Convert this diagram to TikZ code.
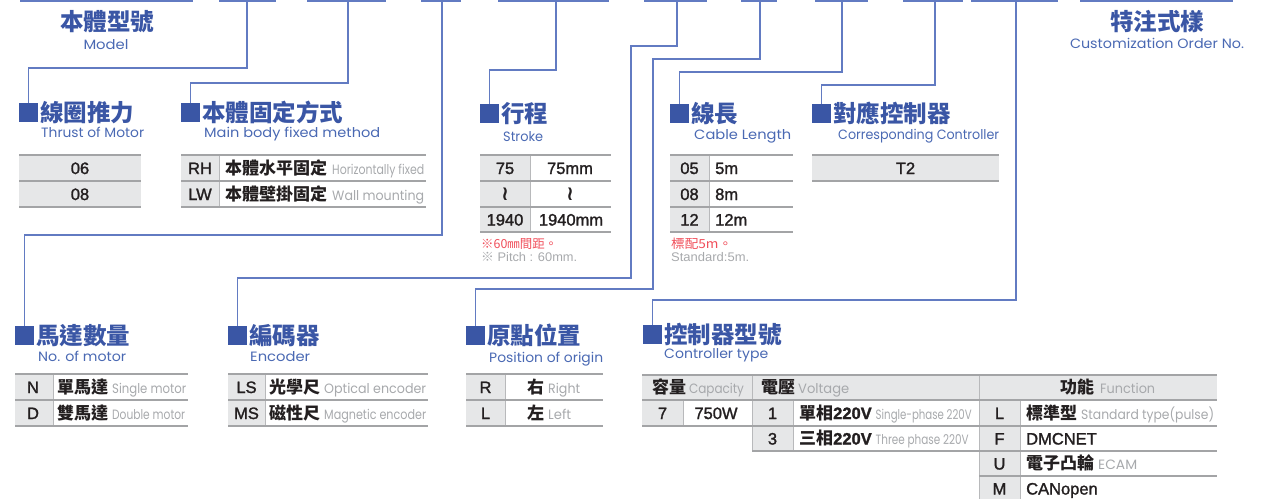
\documentclass[tikz,border=0pt]{standalone}
\usepackage{fontspec}
\usepackage{graphicx}
\setmainfont{Liberation Sans}
\newfontfamily\codef{Liberation Sans}[FakeBold=1.5]
\newfontfamily\cjk{Noto Sans CJK TC}
\newfontfamily\geo{Poppins}
\newfontfamily\djv{DejaVu Sans}
\definecolor{tblue}{HTML}{3A56A5}
\definecolor{lblue}{HTML}{627BC2}
\definecolor{sblue}{HTML}{4A69B3}
\definecolor{cellg}{HTML}{E6E7E8}
\definecolor{lineg}{HTML}{A3A4A6}
\definecolor{vlineg}{HTML}{B8B9BB}
\definecolor{dtxt}{HTML}{231F20}
\definecolor{ltxt}{HTML}{A7A9AC}
\definecolor{rtxt}{HTML}{F04E5A}
\newcommand\sbt[2]{\resizebox{#1pt}{\height}{\geo\fontsize{13.5}{14}\selectfont #2}}
\newcommand\dsc[2]{{\color{ltxt}\resizebox{#1pt}{\height}{\geo\fontsize{13.5}{14}\selectfont #2}}}
\newcommand\cb[1]{{\cjk\bfseries\fontsize{17}{18}\selectfont #1}}
\begin{document}
\begin{tikzpicture}[x=1pt,y=-1pt,
  bar/.style={lblue,line width=1.8pt},
  conn/.style={lblue,line width=1.1pt},
  sq/.style={fill=tblue,minimum width=19pt,minimum height=19pt,inner sep=0pt,anchor=north west},
  ttlnode/.style={inner sep=0pt,text=tblue,font=\cjk\bfseries\fontsize{23.5}{24}\selectfont},
  subnode/.style={anchor=base west,inner sep=0pt,text=sblue},
  hline/.style={lineg,line width=1.5pt},
  vline/.style={vlineg,line width=1pt},
  code/.style={anchor=base,inner sep=0pt,text=dtxt,font=\codef\fontsize{16.5}{18}\selectfont},
  cell/.style={anchor=base west,inner sep=0pt,text=dtxt,font=\codef\fontsize{16.5}{18}\selectfont},
  wave/.style={inner sep=0pt,text=dtxt,font=\djv\bfseries\fontsize{20}{22}\selectfont},
  note/.style={anchor=base west,inner sep=0pt}
]
\useasboundingbox (0,0) rectangle (1276,498);

% ---- top bars ----
\foreach \a/\b in {20/193,219/276,307/386,421/461,498/609,644/707,741/777,815/868,903/963,971/1058,1080/1233}
  \draw[bar] (\a,1) -- (\b,1);
\coordinate (c2) at (247,1);
\coordinate (c3) at (348,1);
\coordinate (c4) at (442,1);
\coordinate (c5) at (556,1);
\coordinate (c6) at (677,1);
\coordinate (c7) at (760,1);
\coordinate (c8) at (842,1);
\coordinate (c9) at (935,1);
\coordinate (c10) at (1016,1);

% ---- header titles ----
\node[ttlnode] (tModel) at (107,22) {本體型號};
\node[subnode,anchor=base] (sModel) at (106,49) {\sbt{45}{Model}};
\node[ttlnode] (tCust) at (1157,22) {特注式樣};
\node[subnode,anchor=base] (sCust) at (1157,48) {\sbt{174}{Customization Order No.}};

% ---- section squares ----
\node[sq] (sqA) at (19,103) {};
\node[sq] (sqB) at (181,103) {};
\node[sq] (sqC) at (480,104) {};
\node[sq] (sqD) at (670,104) {};
\node[sq] (sqE) at (812,104) {};
\node[sq] (sqF) at (15,326) {};
\node[sq] (sqG) at (228,326) {};
\node[sq] (sqH) at (466,326) {};
\node[sq] (sqI) at (643,325) {};

% ---- section titles ----
\node[ttlnode,anchor=west] (tA) at ([xshift=1.5pt]sqA.east) {線圈推力};
\node[ttlnode,anchor=west] (tB) at ([xshift=1.5pt]sqB.east) {本體固定方式};
\node[ttlnode,anchor=west] (tC) at ([xshift=1.5pt]sqC.east) {行程};
\node[ttlnode,anchor=west] (tD) at ([xshift=1.5pt]sqD.east) {線長};
\node[ttlnode,anchor=west] (tE) at ([xshift=1.5pt]sqE.east) {對應控制器};
\node[ttlnode,anchor=west] (tF) at ([xshift=1.5pt]sqF.east) {馬達數量};
\node[ttlnode,anchor=west] (tG) at ([xshift=1.5pt]sqG.east) {編碼器};
\node[ttlnode,anchor=west] (tH) at ([xshift=1.5pt]sqH.east) {原點位置};
\node[ttlnode,anchor=west] (tI) at ([xshift=1.5pt]sqI.east) {控制器型號};

\node[subnode] (sA) at (41,137) {\sbt{103}{Thrust of Motor}};
\node[subnode] (sB) at (204,137) {\sbt{176}{Main body fixed method}};
\node[subnode] (sC) at (503,141.5) {\sbt{40}{Stroke}};
\node[subnode] (sD) at (694,139) {\sbt{97}{Cable Length}};
\node[subnode] (sE) at (838,139) {\sbt{161}{Corresponding Controller}};
\node[subnode] (sF) at (38,361) {\sbt{88}{No. of motor}};
\node[subnode] (sG) at (250,361) {\sbt{60}{Encoder}};
\node[subnode] (sH) at (489,362.5) {\sbt{114}{Position of origin}};
\node[subnode] (sI) at (664,358) {\sbt{104}{Controller type}};

% ---- connectors ----
\draw[conn] (c2) -- (247,68) -| (sqA.north);
\draw[conn] (c3) -- (348,83) -| (sqB.north);
\draw[conn] (c4) -- (442,235) -| (sqF.north);
\draw[conn] (c5) -- (556,70) -| (sqC.north);
\draw[conn] (c6) -- (677,46) -- (631,46) -- (631,278) -| (sqG.north);
\draw[conn] (c7) -- (760,59) -- (653,59) -- (653,289) -| (sqH.north);
\draw[conn] (c8) -- (842,72) -| (sqD.north);
\draw[conn] (c9) -- (935,85) -| (sqE.north);
\draw[conn] (c10) -- (1016,300) -| (sqI.north);

% ---- table A ----
\fill[cellg] (19,155) rectangle (141,207);
\foreach \y in {155,181,207} \draw[hline] (19,\y) -- (141,\y);
\node[code] (a1) at (80,174) {06};
\node[code] (a2) at (80,200) {08};

% ---- table B ----
\fill[cellg] (181,155) rectangle (219,207);
\draw[vline] (219,155) -- (219,207);
\foreach \y in {155,181,207} \draw[hline] (181,\y) -- (426,\y);
\node[code] (b1) at (200,174) {RH};
\node[code] (b2) at (200,200) {LW};
\node[cell] (b1t) at (225,174) {\cb{本體水平固定}\hspace{5pt}\dsc{92}{Horizontally fixed}};
\node[cell] (b2t) at (225,200) {\cb{本體壁掛固定}\hspace{5pt}\dsc{92}{Wall mounting}};

% ---- table C ----
\fill[cellg] (480,155) rectangle (530,232);
\draw[vline] (530,155) -- (530,232);
\foreach \y in {155,181,207,232} \draw[hline] (480,\y) -- (611,\y);
\node[code] (c1a) at (505,174) {75};
\node[code] (c1b) at (570,174) {75mm};
\node[wave] (c2a) at (505,194) {≀};
\node[wave] (c2b) at (570,194) {≀};
\node[code] (c3a) at (505,225.5) {1940};
\node[code] (c3b) at (571,225.5) {1940mm};
\node[note] (cn1) at (481,248) {\color{rtxt}\resizebox{76pt}{\height}{\cjk\fontsize{12.5}{13}\selectfont ※60㎜間距。}};
\node[note] (cn2) at (481,261) {\color{ltxt}\resizebox{96pt}{\height}{\fontsize{12.5}{13}\selectfont{\cjk ※} Pitch : 60mm.}};

% ---- table D ----
\fill[cellg] (670,155) rectangle (709,232);
\draw[vline] (709,155) -- (709,232);
\foreach \y in {155,181,207,232} \draw[hline] (670,\y) -- (793,\y);
\node[code] (d1a) at (689.5,174) {05};
\node[code] (d2a) at (689.5,200) {08};
\node[code] (d3a) at (689.5,225.5) {12};
\node[cell] (d1b) at (715,174) {5m};
\node[cell] (d2b) at (715,200) {8m};
\node[cell] (d3b) at (715,225.5) {12m};
\node[note] (dn1) at (671,248) {\color{rtxt}\resizebox{61pt}{\height}{\cjk\fontsize{12.5}{13}\selectfont 標配5m。}};
\node[note] (dn2) at (671,261) {\color{ltxt}\resizebox{78pt}{\height}{\fontsize{12.5}{13}\selectfont Standard:5m.}};

% ---- table E ----
\fill[cellg] (812,155) rectangle (999,181);
\foreach \y in {155,181} \draw[hline] (812,\y) -- (999,\y);
\node[code] (e1) at (905.5,174) {T2};

% ---- table F ----
\fill[cellg] (15,374) rectangle (53,426);
\draw[vline] (53,374) -- (53,426);
\foreach \y in {374,400,426} \draw[hline] (15,\y) -- (188,\y);
\node[code] (f1) at (33,393) {N};
\node[code] (f2) at (33,419) {D};
\node[cell] (f1t) at (57,393) {\cb{單馬達}\hspace{4pt}\dsc{74}{Single motor}};
\node[cell] (f2t) at (57,419) {\cb{雙馬達}\hspace{4pt}\dsc{73}{Double motor}};

% ---- table G ----
\fill[cellg] (228,374) rectangle (265,426);
\draw[vline] (265,374) -- (265,426);
\foreach \y in {374,400,426} \draw[hline] (228,\y) -- (428,\y);
\node[code] (g1) at (246.5,393) {LS};
\node[code] (g2) at (246.5,419) {MS};
\node[cell] (g1t) at (269,393) {\cb{光學尺}\hspace{4pt}\dsc{102}{Optical encoder}};
\node[cell] (g2t) at (269,419) {\cb{磁性尺}\hspace{4pt}\dsc{102}{Magnetic encoder}};

% ---- table H ----
\fill[cellg] (466,374) rectangle (505,426);
\draw[vline] (505,374) -- (505,426);
\foreach \y in {374,400,426} \draw[hline] (466,\y) -- (603,\y);
\node[code] (h1) at (485.5,393) {R};
\node[code] (h2) at (485.5,419) {L};
\node[cell] (h1t) at (527,393) {\cb{右}\hspace{4pt}\dsc{32}{Right}};
\node[cell] (h2t) at (527,419) {\cb{左}\hspace{4pt}\dsc{23}{Left}};

% ---- table I ----
\fill[cellg] (642,375) rectangle (1217,400);
\fill[cellg] (642,400) rectangle (683,426);
\fill[cellg] (752,400) rectangle (793,451);
\fill[cellg] (979,400) rectangle (1020,501);
\draw[vline] (752,375) -- (752,451);
\draw[vline] (979,375) -- (979,501);
\draw[vline] (683,400) -- (683,426);
\draw[vline] (793,400) -- (793,451);
\draw[vline] (1020,400) -- (1020,501);
\draw[hline] (642,375) -- (1217,375);
\draw[hline] (642,400) -- (1217,400);
\draw[hline] (642,426) -- (1217,426);
\draw[hline] (752,451) -- (1217,451);
\draw[hline] (979,476) -- (1217,476);
\node[code] (ih1) at (698,393.5) {\cb{容量}\hspace{3pt}\dsc{55}{Capacity}};
\node[cell] (ih2) at (761,393.5) {\cb{電壓}\hspace{3pt}\dsc{51}{Voltage}};
\node[cell] (ih3) at (1060,393.5) {\cb{功能}\hspace{6pt}\dsc{55}{Function}};
\node[code] (i7) at (662.5,419) {7};
\node[code] (i750) at (716,419) {750W};
\node[code] (iv1) at (772.5,419) {1};
\node[code] (iv3) at (772.5,444.5) {3};
\node[cell] (iv1t) at (799,419) {\cb{單相}{\bfseries 220V}\hspace{4pt}\dsc{96}{Single-phase 220V}};
\node[cell] (iv3t) at (799,444.5) {\cb{三相}{\bfseries 220V}\hspace{4pt}\dsc{93}{Three phase 220V}};
\node[code] (iL) at (999.5,419) {L};
\node[code] (iF) at (999.5,444.5) {F};
\node[code] (iU) at (999.5,469.5) {U};
\node[code] (iM) at (999.5,494.5) {M};
\node[cell] (iLt) at (1026,419) {\cb{標準型}\hspace{4pt}\dsc{133}{Standard type(pulse)}};
\node[cell] (iFt) at (1026,444.5) {DMCNET};
\node[cell] (iUt) at (1026,469.5) {\cb{電子凸輪}\hspace{4pt}\dsc{39}{ECAM}};
\node[cell] (iMt) at (1026,494.5) {CANopen};
\end{tikzpicture}
\end{document}
